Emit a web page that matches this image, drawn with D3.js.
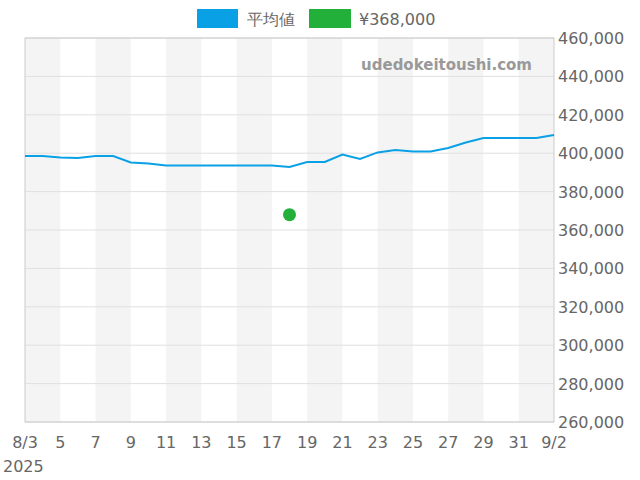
<!DOCTYPE html>
<html><head><meta charset="utf-8">
<script src="https://cdn.jsdelivr.net/npm/d3@7"></script>
<style>body{margin:0;background:#fff}text{font-family:"DejaVu Sans",sans-serif}</style>
</head><body><svg id="c" width="640" height="480"></svg>
<script>
const days = ["2025-08-03","2025-08-04","2025-08-05","2025-08-06","2025-08-07","2025-08-08","2025-08-09","2025-08-10","2025-08-11","2025-08-12","2025-08-13","2025-08-14","2025-08-15","2025-08-16","2025-08-17","2025-08-18","2025-08-19","2025-08-20","2025-08-21","2025-08-22","2025-08-23","2025-08-24","2025-08-25","2025-08-26","2025-08-27","2025-08-28","2025-08-29","2025-08-30","2025-08-31","2025-09-01","2025-09-02"];
const avgValues = [398500,398500,397700,397500,398500,398500,395200,394600,393600,393600,393600,393600,393600,393600,393600,392800,395400,395400,399300,397000,400400,401700,400900,400900,402700,405600,407900,407900,407900,407900,409500];
const pointDate = "2025-08-18", pointValue = 368000;
const seriesNames = ["平均値","¥368,000"];
const yTicks = [260000,280000,300000,320000,340000,360000,380000,400000,420000,440000,460000];
const xTickLabels = ["8/3","5","7","9","11","13","15","17","19","21","23","25","27","29","31","9/2"];

const svg = d3.select("#c");
const L=25,R=554,T=38,B=422;
const parse=d3.timeParse("%Y-%m-%d");
const dates=days.map(parse);
const x=d3.scaleTime().domain([dates[0],dates[dates.length-1]]).range([L,R]);
const y=d3.scaleLinear().domain([260000,460000]).range([B,T]);
// bands
for(let i=0;i<dates.length-1;i+=4){
  svg.append("rect").attr("x",x(dates[i])).attr("y",T).attr("width",x(dates[i+2])-x(dates[i])).attr("height",B-T).attr("fill","#f4f4f4");
}
yTicks.forEach(t=>svg.append("line").attr("x1",L).attr("x2",R).attr("y1",y(t)).attr("y2",y(t)).attr("stroke","#e0e0e0"));
svg.append("rect").attr("x",L).attr("y",T).attr("width",R-L).attr("height",B-T).attr("fill","none").attr("stroke","#ccc");
yTicks.forEach(t=>svg.append("text").attr("x",R+4).attr("y",y(t)+6).attr("font-size",16).attr("fill","#666").text(d3.format(",")(t)));
xTickLabels.forEach((s,i)=>svg.append("text").attr("x",x(dates[i*2])).attr("y",448).attr("text-anchor","middle").attr("font-size",16).attr("fill","#666").text(s));
svg.append("text").attr("x",3).attr("y",472).attr("font-size",16).attr("fill","#666").text("2025");
svg.append("text").attr("x",532).attr("y",70).attr("text-anchor","end").attr("font-size",15).attr("font-weight","bold").attr("fill","#999").text("udedokeitoushi.com");
svg.append("path").datum(avgValues).attr("fill","none").attr("stroke","#0aa0e6").attr("stroke-width",2)
  .attr("d",d3.line().x((d,i)=>x(dates[i])).y(d=>y(d)));
svg.append("circle").attr("cx",x(parse(pointDate))).attr("cy",y(pointValue)).attr("r",6.5).attr("fill","#22b03a");
// legend
svg.append("rect").attr("x",197).attr("y",9).attr("width",41).attr("height",19).attr("fill","#0aa0e6");
svg.append("text").attr("x",247).attr("y",25).attr("font-size",16).attr("fill","#666").text(seriesNames[0]);
svg.append("rect").attr("x",309).attr("y",9).attr("width",42).attr("height",19).attr("fill","#22b03a");
svg.append("text").attr("x",359).attr("y",25).attr("font-size",16).attr("fill","#666").text(seriesNames[1]);
</script></body></html>
